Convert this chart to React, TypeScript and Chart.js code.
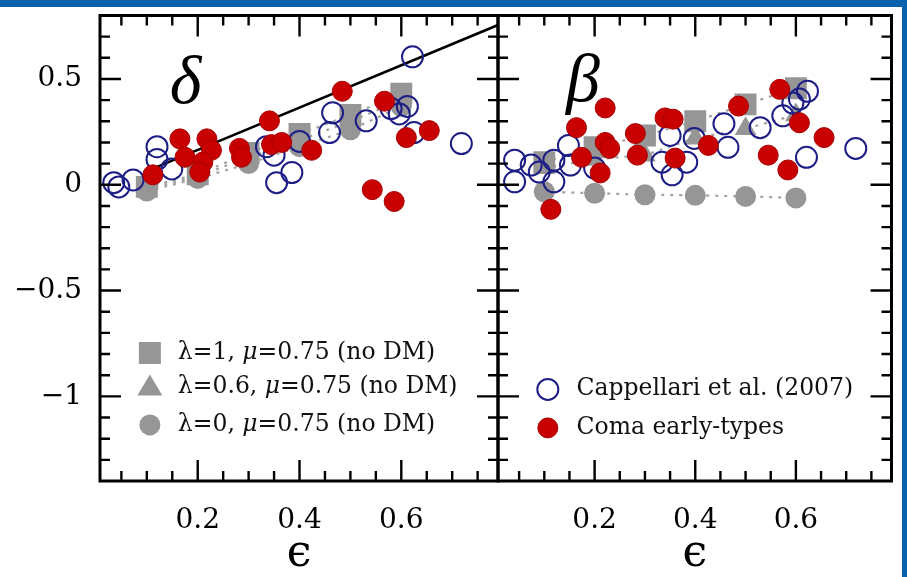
import React, { useEffect, useRef } from 'react';
import { Chart, registerables } from 'chart.js';

Chart.register(...registerables);

// ---- axes ----
const X_MIN = 0.008;
const X_MAX = 0.79;
const Y_MIN = -1.4;
const Y_MAX = 0.8;

const xTickValues = [0.2, 0.4, 0.6];
const xTickLabels = ['0.2', '0.4', '0.6'];
const yTickValues = [0.5, 0, -0.5, -1];
const yTickLabels = ['0.5', '0', '\u22120.5', '\u22121'];
const xAxisTitle = '\u03F5';

// ---- model tracks (no DM), shared ellipticities ----
const modelEps = [0.1, 0.2, 0.3, 0.4, 0.5, 0.6];

// ---- delta panel ----
const deltaLam1 = [-0.01, 0.05, 0.15, 0.24, 0.33, 0.43];
const deltaLam06 = [-0.02, 0.04, 0.13, 0.21, 0.3, 0.4];
const deltaLam0 = [-0.03, 0.03, 0.1, 0.18, 0.26, 0.37];

const deltaCappEps = [0.035, 0.045, 0.073, 0.12, 0.12, 0.149, 0.335, 0.35, 0.355, 0.385, 0.4, 0.465, 0.459, 0.531, 0.622, 0.612, 0.596, 0.58, 0.625, 0.718];
const deltaCappVal = [0.01, -0.01, 0.023, 0.18, 0.12, 0.075, 0.18, 0.14, 0.01, 0.058, 0.205, 0.34, 0.247, 0.302, 0.605, 0.37, 0.335, 0.36, 0.247, 0.195];

const deltaComaEps = [0.112, 0.165, 0.175, 0.218, 0.227, 0.21, 0.204, 0.282, 0.286, 0.341, 0.345, 0.365, 0.424, 0.484, 0.567, 0.61, 0.655, 0.543, 0.586];
const deltaComaVal = [0.047, 0.217, 0.13, 0.217, 0.163, 0.107, 0.06, 0.172, 0.13, 0.302, 0.19, 0.2, 0.163, 0.442, 0.395, 0.223, 0.256, -0.023, -0.079];

const deltaLineEps = [0.12, 0.79];
const deltaLineVal = [0.085, 0.755];

// ---- beta panel ----
const betaLam1 = [0.107, 0.177, 0.233, 0.3, 0.38, 0.456];
const betaLam06 = [0.08, 0.12, 0.14, 0.22, 0.265, 0.33];
const betaLam0 = [-0.033, -0.04, -0.047, -0.05, -0.055, -0.062];

const betaCappEps = [0.041, 0.041, 0.074, 0.09, 0.119, 0.119, 0.148, 0.152, 0.2, 0.334, 0.35, 0.354, 0.383, 0.398, 0.457, 0.465, 0.529, 0.574, 0.594, 0.607, 0.623, 0.621, 0.719];
const betaCappVal = [0.116, 0.014, 0.093, 0.06, 0.116, 0.014, 0.186, 0.093, 0.079, 0.107, 0.233, 0.047, 0.107, 0.219, 0.288, 0.177, 0.27, 0.326, 0.386, 0.405, 0.442, 0.13, 0.172];

const betaComaEps = [0.113, 0.164, 0.221, 0.174, 0.221, 0.23, 0.211, 0.281, 0.285, 0.34, 0.356, 0.36, 0.426, 0.486, 0.545, 0.568, 0.584, 0.607, 0.656];
const betaComaVal = [-0.116, 0.27, 0.363, 0.13, 0.2, 0.172, 0.056, 0.242, 0.14, 0.316, 0.31, 0.126, 0.186, 0.372, 0.14, 0.451, 0.07, 0.293, 0.223];

// ---- labels ----
const lamLabels = ['\u03BB=1, \u03BC=0.75 (no DM)', '\u03BB=0.6, \u03BC=0.75 (no DM)', '\u03BB=0, \u03BC=0.75 (no DM)'];
const obsLabels = ['Cappellari et al. (2007)', 'Coma early-types'];

// ---- styles ----
const BLUE_FRAME = '#0b62ac';
const RED = '#c80000';
const RED_EDGE = '#a80000';
const NAVY = '#1d1d86';
const GRAY = '#969696';
const GRAY_LINE = '#a3a3a3';
const FONT = '"DejaVu Serif", serif';
const LETTER_FONT = '"Liberation Serif", serif';

const pts = (xs: number[], ys: number[]) => xs.map((x, i) => ({ x, y: ys[i] }));

function modelSets(l1: number[], l06: number[], l0: number[]) {
  const base = {
    showLine: true,
    borderColor: GRAY_LINE,
    borderWidth: 2.2,
    borderDash: [3, 6],
    pointBackgroundColor: GRAY,
    pointBorderColor: GRAY,
    pointBorderWidth: 0,
  };
  return [
    { ...base, label: lamLabels[0], data: pts(modelEps, l1), pointStyle: 'rect', pointRadius: 15.5, order: 3 },
    { ...base, label: lamLabels[1], data: pts(modelEps, l06), pointStyle: 'triangle', pointRadius: 12.5, order: 4 },
    { ...base, label: lamLabels[2], data: pts(modelEps, l0), pointStyle: 'circle', pointRadius: 10.5, order: 5 },
  ];
}

function obsSets(cEps: number[], cVal: number[], rEps: number[], rVal: number[]) {
  return [
    { label: obsLabels[1], data: pts(rEps, rVal), pointStyle: 'circle', pointRadius: 10, backgroundColor: RED, borderColor: RED_EDGE, borderWidth: 1, showLine: false, order: 0 },
    { label: obsLabels[0], data: pts(cEps, cVal), pointStyle: 'circle', pointRadius: 10.5, backgroundColor: 'rgba(0,0,0,0)', borderColor: NAVY, borderWidth: 2, showLine: false, order: 1 },
  ];
}

type Seg = { t: string; italic?: boolean };
type Row = { shape: string; segs: Seg[]; v: number };

function splitMu(s: string): Seg[] {
  const parts = s.split('\u03BC');
  const out: Seg[] = [];
  parts.forEach((p, i) => {
    if (i > 0) out.push({ t: '\u03BC', italic: true });
    out.push({ t: p });
  });
  return out;
}

function drawMarker(ctx: CanvasRenderingContext2D, shape: string, x: number, y: number) {
  ctx.save();
  if (shape === 'rect') {
    ctx.fillStyle = GRAY;
    ctx.fillRect(x - 11, y - 11, 22, 22);
  } else if (shape === 'triangle') {
    ctx.fillStyle = GRAY;
    ctx.beginPath();
    ctx.moveTo(x, y - 12);
    ctx.lineTo(x + 12.5, y + 9);
    ctx.lineTo(x - 12.5, y + 9);
    ctx.closePath();
    ctx.fill();
  } else if (shape === 'circle') {
    ctx.fillStyle = GRAY;
    ctx.beginPath();
    ctx.arc(x, y, 10.5, 0, Math.PI * 2);
    ctx.fill();
  } else if (shape === 'open') {
    ctx.strokeStyle = NAVY;
    ctx.lineWidth = 2;
    ctx.beginPath();
    ctx.arc(x, y, 10.5, 0, Math.PI * 2);
    ctx.stroke();
  } else if (shape === 'red') {
    ctx.fillStyle = RED;
    ctx.strokeStyle = RED_EDGE;
    ctx.lineWidth = 1;
    ctx.beginPath();
    ctx.arc(x, y, 10, 0, Math.PI * 2);
    ctx.fill();
    ctx.stroke();
  }
  ctx.restore();
}

function framePlugin(letter: string, letterEps: number, letterVal: number, markerEps: number, textEps: number, rows: Row[], legendSize: number) {
  return {
    id: 'panelFrame',
    afterDatasetsDraw(chart: any) {
      const { ctx, chartArea: a } = chart;
      const xs = chart.scales.x;
      const ys = chart.scales.y;
      ctx.save();
      ctx.strokeStyle = '#000';
      ctx.lineWidth = 2.4;
      ctx.beginPath();
      for (let k = 1; k * 0.05 < X_MAX; k++) {
        const px = xs.getPixelForValue(k * 0.05);
        const len = k % 4 === 0 ? 21 : 10;
        ctx.moveTo(px, a.bottom);
        ctx.lineTo(px, a.bottom - len);
        ctx.moveTo(px, a.top);
        ctx.lineTo(px, a.top + len);
      }
      for (let k = -13; k <= 7; k++) {
        const py = ys.getPixelForValue(k / 10);
        const len = k % 5 === 0 ? 21 : 10;
        ctx.moveTo(a.left, py);
        ctx.lineTo(a.left + len, py);
        ctx.moveTo(a.right, py);
        ctx.lineTo(a.right - len, py);
      }
      ctx.stroke();
      ctx.lineWidth = 3;
      ctx.strokeRect(a.left, a.top, a.right - a.left, a.bottom - a.top);

      // panel letter
      ctx.fillStyle = '#000';
      ctx.textBaseline = 'alphabetic';
      ctx.textAlign = 'left';
      ctx.font = `italic 68px ${LETTER_FONT}`;
      ctx.fillText(letter, xs.getPixelForValue(letterEps), ys.getPixelForValue(letterVal));

      // legend
      ctx.textBaseline = 'middle';
      const mx = xs.getPixelForValue(markerEps);
      const tx = xs.getPixelForValue(textEps);
      for (const r of rows) {
        const py = ys.getPixelForValue(r.v);
        drawMarker(ctx, r.shape, mx, py);
        let cx = tx;
        ctx.fillStyle = '#111';
        for (const s of r.segs) {
          ctx.font = `${s.italic ? 'italic ' : ''}${legendSize}px ${FONT}`;
          ctx.fillText(s.t, cx, py);
          cx += ctx.measureText(s.t).width;
        }
      }
      ctx.restore();
    },
  };
}

const tickFont = { family: FONT, size: 28 };

function xScale() {
  return {
    type: 'linear',
    min: X_MIN,
    max: X_MAX,
    grid: { display: false, drawTicks: false },
    border: { display: false },
    ticks: {
      color: '#000',
      font: tickFont,
      padding: 23,
      autoSkip: false,
      maxRotation: 0,
      callback: (v: number) => {
        const i = xTickValues.findIndex((t) => Math.abs(t - v) < 1e-9);
        return i >= 0 ? xTickLabels[i] : '';
      },
    },
    afterBuildTicks: (s: any) => {
      s.ticks = xTickValues.map((v) => ({ value: v }));
    },
    afterFit: (s: any) => {
      s.height = 96;
      s.paddingLeft = 0;
      s.paddingRight = 0;
    },
    title: {
      display: true,
      text: xAxisTitle,
      color: '#000',
      font: { family: FONT, size: 44, lineHeight: 1 },
      padding: { top: 0, bottom: 0 },
    },
  };
}

function baseOptions(padding: any, yScale: any) {
  return {
    responsive: false,
    animation: false,
    events: [],
    layout: { padding },
    plugins: { legend: { display: false }, tooltip: { enabled: false } },
    scales: { x: xScale(), y: yScale },
  };
}

export default function App() {
  const leftRef = useRef<HTMLCanvasElement>(null);
  const rightRef = useRef<HTMLCanvasElement>(null);

  useEffect(() => {
    const leftY = {
      type: 'linear',
      min: Y_MIN,
      max: Y_MAX,
      grid: { display: false, drawTicks: false },
      border: { display: false },
      ticks: {
        color: '#000',
        font: tickFont,
        padding: 18,
        autoSkip: false,
        callback: (v: number) => {
          const i = yTickValues.findIndex((t) => Math.abs(t - v) < 1e-9);
          return i >= 0 ? yTickLabels[i] : '';
        },
      },
      afterBuildTicks: (s: any) => {
        s.ticks = yTickValues.map((v) => ({ value: v }));
      },
      afterFit: (s: any) => {
        s.width = 100;
        s.paddingTop = 0;
        s.paddingBottom = 0;
      },
    };
    const rightY = { type: 'linear', min: Y_MIN, max: Y_MAX, display: false };

    const leftRows: Row[] = [
      { shape: 'rect', segs: splitMu(lamLabels[0]), v: -0.795 },
      { shape: 'triangle', segs: splitMu(lamLabels[1]), v: -0.953 },
      { shape: 'circle', segs: splitMu(lamLabels[2]), v: -1.135 },
    ];
    const rightRows: Row[] = [
      { shape: 'open', segs: [{ t: obsLabels[0] }], v: -0.967 },
      { shape: 'red', segs: [{ t: obsLabels[1] }], v: -1.149 },
    ];

    const c1 = new Chart(leftRef.current as HTMLCanvasElement, {
      type: 'scatter',
      data: {
        datasets: [
          ...obsSets(deltaCappEps, deltaCappVal, deltaComaEps, deltaComaVal),
          {
            label: 'fit',
            data: pts(deltaLineEps, deltaLineVal),
            showLine: true,
            borderColor: '#000',
            borderWidth: 2.5,
            pointRadius: 0,
            order: 2,
          },
          ...modelSets(deltaLam1, deltaLam06, deltaLam0),
        ],
      },
      options: baseOptions({ left: 0, right: 409, top: 9, bottom: 0 }, leftY) as any,
      plugins: [framePlugin('\u03B4', 0.145, 0.386, 0.106, 0.161, leftRows, 23.5)],
    } as any);

    const c2 = new Chart(rightRef.current as HTMLCanvasElement, {
      type: 'scatter',
      data: {
        datasets: [
          ...obsSets(betaCappEps, betaCappVal, betaComaEps, betaComaVal),
          ...modelSets(betaLam1, betaLam06, betaLam0),
        ],
      },
      options: baseOptions({ left: 498, right: 10, top: 9, bottom: 0 }, rightY) as any,
      plugins: [framePlugin('\u03B2', 0.143, 0.395, 0.107, 0.164, rightRows, 23.5)],
    } as any);

    return () => {
      c1.destroy();
      c2.destroy();
    };
  }, []);

  return (
    <div style={{ position: 'absolute', left: 0, top: 0, width: 907, height: 577, background: '#fff', overflow: 'hidden' }}>
      <canvas ref={leftRef} width={907} height={577} style={{ position: 'absolute', left: 0, top: 0 }} />
      <canvas ref={rightRef} width={907} height={577} style={{ position: 'absolute', left: 0, top: 0 }} />
      <div style={{ position: 'absolute', left: 0, top: 0, width: 907, height: 7, background: BLUE_FRAME }} />
      <div style={{ position: 'absolute', left: 902, top: 0, width: 5, height: 577, background: BLUE_FRAME }} />
    </div>
  );
}
